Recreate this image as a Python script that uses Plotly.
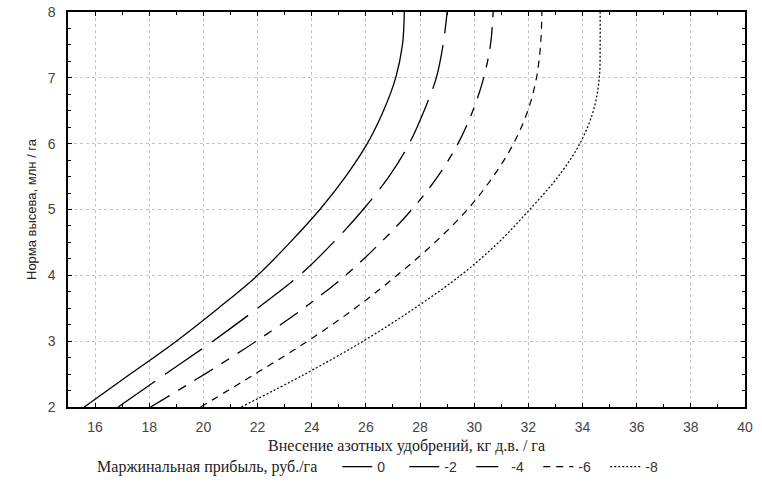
import plotly.graph_objects as go

# seeding rate, mln / ha (y axis)
seed_rate = [2.0, 2.5, 3.0, 3.5, 4.0, 4.5, 5.0, 5.5, 6.0, 6.5, 7.0, 7.5, 8.0]

# nitrogen applied, kg a.i. / ha, one curve per marginal profit level
n_profit_0 = [15.6, 17.3, 19.0, 20.55, 22.0, 23.2, 24.3, 25.25, 26.05, 26.65, 27.1, 27.35, 27.42]
n_profit_m2 = [16.85, 18.6, 20.35, 22.0, 23.55, 24.8, 25.9, 26.85, 27.6, 28.15, 28.6, 28.85, 29.0]
n_profit_m4 = [18.05, 20.05, 21.95, 23.7, 25.25, 26.55, 27.7, 28.65, 29.4, 29.95, 30.35, 30.6, 30.7]
n_profit_m6 = [19.9, 21.9, 23.85, 25.6, 27.15, 28.55, 29.75, 30.7, 31.45, 31.98, 32.3, 32.45, 32.5]
n_profit_m8 = [21.4, 23.75, 25.9, 27.8, 29.5, 30.9, 32.05, 33.1, 33.9, 34.4, 34.62, 34.65, 34.65]

series = [
    ("0", n_profit_0, "solid", 1.3),
    ("-2", n_profit_m2, "45px,12px", 1.3),
    ("-4", n_profit_m4, "22px,10px,9px,10px", 1.3),
    ("-6", n_profit_m6, "7px,6px", 1.2),
    ("-8", n_profit_m8, "2px,2px", 1.2),
]

x_ticks = [16, 18, 20, 22, 24, 26, 28, 30, 32, 34, 36, 38, 40]
y_ticks = [2, 3, 4, 5, 6, 7, 8]

fig = go.Figure()
for name, xs, dash, w in series:
    fig.add_trace(go.Scatter(
        x=xs, y=seed_rate, name=name, mode="lines",
        line=dict(color="black", width=w, dash=dash, shape="spline", smoothing=1.0),
    ))

axis_common = dict(
    showline=True, linecolor="black", linewidth=1.5, mirror="allticks",
    ticks="inside", ticklen=4, tickcolor="black",
    showgrid=True, gridcolor="#c4c4c4", griddash="dot", gridwidth=1,
    zeroline=False, automargin=False,
    tickfont=dict(family="Liberation Sans, Arial", size=14, color="#444"),
)

fig.update_xaxes(
    range=[15, 40], tickvals=x_ticks,
    minor=dict(dtick=1, ticks="inside", ticklen=3, tickcolor="black", showgrid=False),
    ticklabelstandoff=6,
    title=dict(text="Внесение азотных удобрений, кг д.в. / га",
               font=dict(family="Liberation Serif, Times New Roman", size=16, color="#222"),
               standoff=6),
    **axis_common,
)
fig.update_yaxes(
    range=[2, 8], tickvals=y_ticks,
    minor=dict(dtick=0.25, ticks="inside", ticklen=3, tickcolor="black", showgrid=False),
    ticklabelstandoff=8,
    title=dict(text="Норма высева, млн / га",
               font=dict(family="Liberation Sans, Arial", size=13, color="#222"),
               standoff=8),
    **axis_common,
)

fig.update_layout(
    width=762, height=491,
    margin=dict(l=68, r=17, t=12, b=84, autoexpand=False),
    plot_bgcolor="white", paper_bgcolor="white",
    legend=dict(
        orientation="h", x=0.04, xanchor="left", y=-0.152, yanchor="middle",
        title=dict(text="Маржинальная прибыль, руб./га   ", side="left",
                   font=dict(family="Liberation Serif, Times New Roman", size=16, color="#222")),
        font=dict(family="Liberation Sans, Arial", size=14, color="#333"),
        entrywidth=22, entrywidthmode="pixels",
        bgcolor="rgba(0,0,0,0)",
    ),
)

# browser default body margin shifts the figure by 8px
fig.write_html("out.html", config={"displayModeBar": False},
               post_script="document.body.style.margin='0px';")
